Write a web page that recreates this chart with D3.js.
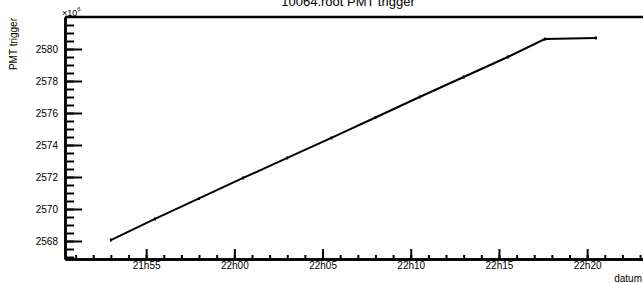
<!DOCTYPE html>
<html>
<head>
<meta charset="utf-8">
<script src="https://cdn.jsdelivr.net/npm/d3@7"></script>
<style>
  body { margin: 0; background: #fff; }
  text { font-family: "Liberation Sans", Arial, sans-serif; fill: #000; }
</style>
</head>
<body>
<div id="chart"></div>
<script>
// Data.
const times = ['21:53:00', '21:55:30', '21:58:00', '22:00:30', '22:03:00', '22:05:30',
               '22:08:00', '22:10:30', '22:13:00', '22:15:30', '22:17:36', '22:20:30'];
const triggers = [2568.06e6, 2569.38e6, 2570.66e6, 2571.94e6, 2573.19e6, 2574.44e6,
                  2575.72e6, 2577.00e6, 2578.25e6, 2579.50e6, 2580.62e6, 2580.69e6];
const yTicks = [2568e6, 2570e6, 2572e6, 2574e6, 2576e6, 2578e6, 2580e6];

const parseT = d3.timeParse('%Y-%m-%d %H:%M:%S');
const day = '2010-01-01 ';
const points = times.map((t, i) => ({ date: parseT(day + t), value: triggers[i] }));

// Dimensions.
const width = 643, height = 283;
const frame = { left: 65, right: 643, top: 17, bottom: 259 };

const xScale = d3.scaleTime()
  .domain([parseT(day + '21:50:24'), parseT(day + '22:23:10')])
  .range([frame.left, frame.right]);

const yScale = d3.scaleLinear()
  .domain([2566.875e6, 2582e6])
  .range([frame.bottom, frame.top]);

const svg = d3.select('#chart').append('svg')
  .attr('width', width)
  .attr('height', height);

// Title (cut at top like the original).
svg.append('text')
  .attr('x', 348).attr('y', 6)
  .attr('text-anchor', 'middle')
  .style('font-size', '13px')
  .text('10064.root PMT trigger');

// Top frame line.
svg.append('line')
  .attr('x1', frame.left).attr('x2', frame.right)
  .attr('y1', frame.top).attr('y2', frame.top)
  .attr('stroke', '#000').attr('stroke-width', 2.5);

// X axis: minor ticks each minute, major every 5.
const xMinor = d3.axisBottom(xScale)
  .ticks(d3.timeMinute.every(1))
  .tickFormat('')
  .tickSizeInner(-4).tickSizeOuter(0);
svg.append('g').attr('class', 'x minor')
  .attr('transform', `translate(0, ${frame.bottom})`)
  .call(xMinor);

const xAxis = d3.axisBottom(xScale)
  .ticks(d3.timeMinute.every(5))
  .tickFormat(d3.timeFormat('%Hh%M'))
  .tickSizeInner(-10).tickSizeOuter(0)
  .tickPadding(3);
svg.append('g').attr('class', 'x axis')
  .attr('transform', `translate(0, ${frame.bottom})`)
  .call(xAxis);

// Y axis: minor ticks every 0.5e6.
const yMinorTicks = d3.range(2567e6, 2582e6, 0.5e6);
const yMinor = d3.axisLeft(yScale)
  .tickValues(yMinorTicks)
  .tickFormat('')
  .tickSizeInner(-9).tickSizeOuter(0);
svg.append('g').attr('class', 'y minor')
  .attr('transform', `translate(${frame.left}, 0)`)
  .call(yMinor);

const yAxis = d3.axisLeft(yScale)
  .tickValues(yTicks)
  .tickFormat(d => d3.format('d')(d / 1e6))
  .tickSizeInner(-17).tickSizeOuter(0)
  .tickPadding(7);
svg.append('g').attr('class', 'y axis')
  .attr('transform', `translate(${frame.left}, 0)`)
  .call(yAxis);

svg.selectAll('.domain').attr('stroke-width', 2.5);
svg.selectAll('.tick line').attr('stroke-width', 2);
svg.selectAll('.axis text').style('font-size', '10px');

// Exponent label.
const expo = svg.append('text').attr('x', 62).attr('y', 16).style('font-size', '9px');
expo.append('tspan').text('\u00d710');
expo.append('tspan').attr('dy', -5).style('font-size', '6px').text('6');

// Axis titles.
svg.append('text')
  .attr('transform', 'translate(17, 18) rotate(-90)')
  .attr('text-anchor', 'end')
  .style('font-size', '10px')
  .text('PMT trigger');

svg.append('text')
  .attr('x', 642).attr('y', 282)
  .attr('text-anchor', 'end')
  .style('font-size', '10px')
  .text('datum');

// Line.
const lineGen = d3.line()
  .x(d => xScale(d.date))
  .y(d => yScale(d.value));

svg.append('path')
  .datum(points)
  .attr('d', lineGen)
  .attr('fill', 'none')
  .attr('stroke', '#000')
  .attr('stroke-width', 2);

// Point markers.
svg.selectAll('.pt')
  .data(points)
  .enter()
  .append('rect')
  .attr('class', 'pt')
  .attr('x', d => xScale(d.date) - 1)
  .attr('y', d => yScale(d.value) - 1.5)
  .attr('width', 2).attr('height', 3)
  .attr('fill', '#000');
</script>
</body>
</html>
